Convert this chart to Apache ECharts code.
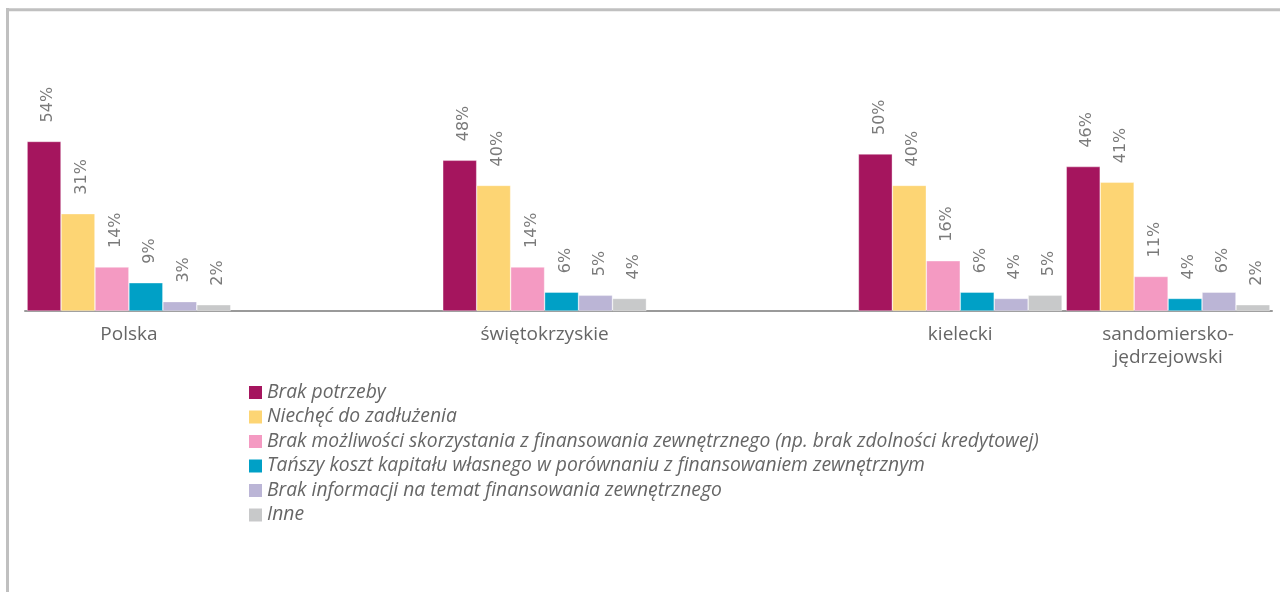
<!DOCTYPE html>
<html>
<head>
<meta charset="utf-8">
<script src="https://cdn.jsdelivr.net/npm/echarts@6/dist/echarts.min.js"></script>
<style>
html,body{margin:0;padding:0;background:#fff;}
#c{width:1280px;height:592px;}
</style>
</head>
<body>
<div id="c"></div>
<script>
// Categories (blank slots keep the original spacing between groups)
var categories = ['Polska', '', 'świętokrzyskie', '', 'kielecki', 'sandomiersko-\njędrzejowski'];
var seriesNames = [
  'Brak potrzeby',
  'Niechęć do zadłużenia',
  'Brak możliwości skorzystania z finansowania zewnętrznego (np. brak zdolności kredytowej)',
  'Tańszy koszt kapitału własnego w porównaniu z finansowaniem zewnętrznym',
  'Brak informacji na temat finansowania zewnętrznego',
  'Inne'
];
var brakPotrzeby      = [54, null, 48, null, 50, 46];
var niechec           = [31, null, 40, null, 40, 41];
var brakMozliwosci    = [14, null, 14, null, 16, 11];
var tanszyKoszt       = [9,  null, 6,  null, 6,  4];
var brakInformacji    = [3,  null, 5,  null, 4,  6];
var inne              = [2,  null, 4,  null, 5,  2];

var values = [brakPotrzeby, niechec, brakMozliwosci, tanszyKoszt, brakInformacji, inne];
var colors = ['#a5155e', '#fdd574', '#f49ac2', '#00a0c6', '#bbb5d6', '#c8c9ca'];

var chart = echarts.init(document.getElementById('c'), null, {renderer: 'canvas'});
var font = '"Open Sans", "Noto Sans", sans-serif';

var series = values.map(function (arr, i) {
  return {
    name: seriesNames[i],
    type: 'bar',
    data: arr.map(function (v) { return v === null ? '-' : v; }),
    barGap: '0%',
    barCategoryGap: '2%',
    itemStyle: {color: colors[i], borderColor: 'rgba(255,255,255,0.6)', borderWidth: 0.6},
    label: {
      show: true,
      position: 'top',
      rotate: 90,
      align: 'left',
      verticalAlign: 'middle',
      distance: 19,
      offset: [0, 4],
      formatter: '{c}%',
      color: '#7a7a7a',
      fontSize: 16,
      fontFamily: '"DejaVu Sans", sans-serif'
    },
    emphasis: {disabled: true}
  };
});

chart.setOption({
  animation: false,
  textStyle: {fontFamily: font},
  grid: {left: 25, right: 8, top: 122.6, bottom: 281, containLabel: false},
  xAxis: {
    type: 'category',
    data: categories,
    axisLine: {show: true, lineStyle: {color: '#9a9a9a', width: 2}},
    axisTick: {show: false},
    axisLabel: {
      color: '#666666',
      fontSize: 19,
      fontFamily: font,
      margin: 12,
      lineHeight: 23,
      interval: 0
    }
  },
  yAxis: {
    type: 'value',
    min: 0,
    max: 60,
    show: false,
    splitLine: {show: false}
  },
  legend: {
    orient: 'vertical',
    left: 249,
    top: 382.5,
    padding: 0,
    itemWidth: 13,
    itemHeight: 13,
    itemGap: 4.5,
    icon: 'rect',
    data: seriesNames,
    textStyle: {
      color: '#666666',
      fontSize: 19.3,
      fontStyle: 'italic',
      fontFamily: font,
      lineHeight: 20
    },
    itemStyle: {borderWidth: 0},
    selectedMode: false
  },
  graphic: [
    {type: 'line', shape: {x1: 7.5, y1: 8, x2: 7.5, y2: 600}, style: {stroke: '#c0c0c0', lineWidth: 3}},
    {type: 'line', shape: {x1: 6, y1: 9.8, x2: 1290, y2: 9.8}, style: {stroke: '#c0c0c0', lineWidth: 3}}
  ],
  series: series
});
</script>
</body>
</html>
